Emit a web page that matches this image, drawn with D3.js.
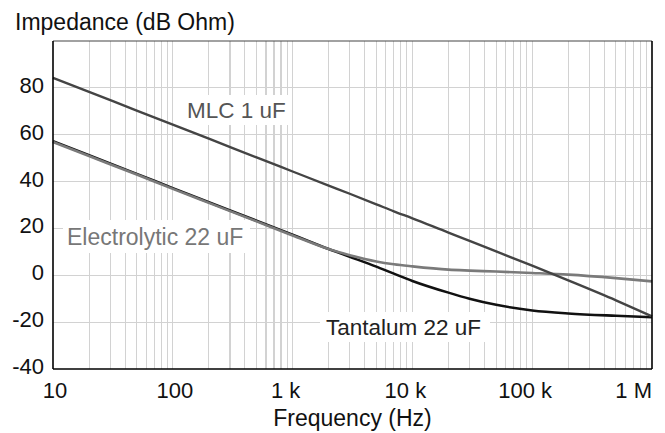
<!DOCTYPE html>
<html>
<head>
<meta charset="utf-8">
<script src="https://cdn.jsdelivr.net/npm/d3@7"></script>
<style>
  html, body { margin: 0; padding: 0; background: #fff; }
  svg { display: block; font-family: "Liberation Sans", Arial, sans-serif; }
</style>
</head>
<body>
<svg id="chart" width="665" height="433"></svg>
<script>
// ---- data ----
const freqs = [10, 20, 50, 100, 200, 500, 1000, 2000, 3000, 5000, 7000, 10000, 20000, 30000, 50000, 100000, 200000, 500000, 1000000];
const mlc1uF = [84.3, 78.3, 70.3, 64.3, 58.3, 50.3, 44.3, 38.3, 34.8, 30.3, 27.3, 24.3, 18.2, 14.7, 10.2, 4.1, -2.2, -10.7, -17.5];
const electrolytic22uF = [56.9, 50.9, 43.0, 36.9, 30.9, 23.0, 17.0, 11.2, 8.6, 5.9, 4.7, 3.8, 2.4, 2.0, 1.6, 1.0, 0.3, -1.2, -2.6];
const tantalum22uF = [57.2, 51.2, 43.3, 37.2, 31.2, 23.3, 17.3, 11.2, 7.9, 3.7, 0.7, -2.4, -7.4, -10.0, -12.6, -15.0, -16.3, -17.3, -17.9];
const xTickValues = [10, 100, 1000, 10000, 100000, 1000000];
const xTickLabels = ["10", "100", "1 k", "10 k", "100 k", "1 M"];
const yTickValues = [-40, -20, 0, 20, 40, 60, 80];
const seriesNames = ["MLC 1 uF", "Electrolytic 22 uF", "Tantalum 22 uF"];

// ---- layout ----
const svg = d3.select("#chart");
const mLeft = 53, mRight = 652, mTop = 41, mBottom = 369;
const x = d3.scaleLog().domain([10, 1e6]).range([mLeft, mRight]);
const y = d3.scaleLinear().domain([-40, 100]).range([mBottom, mTop]);

// grid: vertical (all decades + minor)
const vgrid = [];
for (let d = 10; d < 1e6; d *= 10) for (let k = 1; k <= 9; k++) vgrid.push(d * k);
svg.append("g").selectAll("line").data(vgrid.filter(v => v > 10 && v < 1e6)).join("line")
  .attr("x1", d => x(d)).attr("x2", d => x(d))
  .attr("y1", mTop).attr("y2", mBottom)
  .attr("stroke", "#d2d2d2").attr("stroke-width", 1.1)
  .attr("shape-rendering", "crispEdges");
// horizontal grid
svg.append("g").selectAll("line").data(yTickValues.filter(v => v > -40)).join("line")
  .attr("x1", mLeft).attr("x2", mRight)
  .attr("y1", d => y(d)).attr("y2", d => y(d))
  .attr("stroke", "#d2d2d2").attr("stroke-width", 1.1)
  .attr("shape-rendering", "crispEdges");

// label background boxes (cover grid)
function bgBox(x0, y0, w, h) {
  svg.append("rect").attr("x", x0).attr("y", y0).attr("width", w).attr("height", h).attr("fill", "#fff");
}
bgBox(180, 95, 110, 30);
bgBox(63, 220, 187, 33);
bgBox(320, 312, 170, 30);

// lines
const line = d3.line().x(d => x(d[0])).y(d => y(d[1])).curve(d3.curveMonotoneX);
const zipS = arr => freqs.map((f, i) => [f, arr[i]]);
const plot = svg.append("g");
plot.append("path").datum(zipS(tantalum22uF)).attr("d", line)
  .attr("fill", "none").attr("stroke", "#111").attr("stroke-width", 2.6);
plot.append("path").datum(zipS(electrolytic22uF)).attr("d", line)
  .attr("fill", "none").attr("stroke", "#7a7a7a").attr("stroke-width", 2.6);
plot.append("path").datum(zipS(mlc1uF)).attr("d", line)
  .attr("fill", "none").attr("stroke", "#444").attr("stroke-width", 2.4);

// frame
svg.append("line").attr("x1", mLeft).attr("x2", mRight).attr("y1", mTop).attr("y2", mTop)
  .attr("stroke", "#444").attr("stroke-width", 1.2);
svg.append("line").attr("x1", mLeft).attr("x2", mLeft).attr("y1", mTop).attr("y2", mBottom)
  .attr("stroke", "#000").attr("stroke-width", 1.6);
svg.append("line").attr("x1", mRight).attr("x2", mRight).attr("y1", mTop).attr("y2", mBottom)
  .attr("stroke", "#000").attr("stroke-width", 1.6);
svg.append("line").attr("x1", mLeft).attr("x2", mRight).attr("y1", mBottom).attr("y2", mBottom)
  .attr("stroke", "#000").attr("stroke-width", 1.6);

// x tick labels
svg.append("g").selectAll("text").data(xTickValues).join("text")
  .attr("x", (d, i) => {
    if (i === xTickValues.length - 1) return x(d);
    return x(d) + (xTickLabels[i].includes(" ") ? -7 : 2);
  })
  .attr("y", 398)
  .attr("text-anchor", (d, i) => i === xTickValues.length - 1 ? "end" : "middle")
  .attr("font-size", 22).attr("fill", "#111")
  .text((d, i) => xTickLabels[i]);

// y tick labels
svg.append("g").selectAll("text").data(yTickValues).join("text")
  .attr("x", 44).attr("y", d => y(d) + 5)
  .attr("text-anchor", "end").attr("font-size", 22).attr("fill", "#111")
  .text(d => d);

// axis titles
svg.append("text").attr("x", 15).attr("y", 30).attr("font-size", 23).attr("fill", "#111")
  .text("Impedance (dB Ohm)");
svg.append("text").attr("x", (mLeft + mRight) / 2).attr("y", 426).attr("text-anchor", "middle")
  .attr("font-size", 23).attr("fill", "#111").text("Frequency (Hz)");

// series labels
svg.append("text").attr("x", 187).attr("y", 118).attr("font-size", 22.5).attr("fill", "#555").text(seriesNames[0]);
svg.append("text").attr("x", 67).attr("y", 245).attr("font-size", 23).attr("fill", "#777").text(seriesNames[1]);
svg.append("text").attr("x", 326).attr("y", 335).attr("font-size", 22.5).attr("fill", "#222").text(seriesNames[2]);
</script>
</body>
</html>
